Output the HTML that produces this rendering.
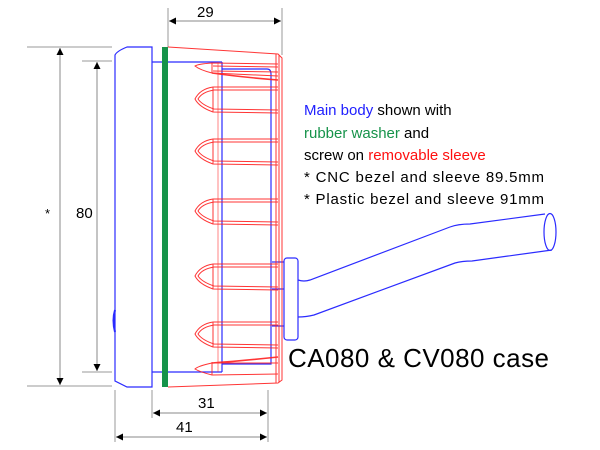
<!DOCTYPE html>
<html><head><style>
html,body{margin:0;padding:0;background:#fff;width:600px;height:450px;overflow:hidden}
svg{display:block}
text{font-family:"Liberation Sans",sans-serif}
</style></head><body>
<svg width="600" height="450" viewBox="0 0 600 450" xmlns="http://www.w3.org/2000/svg">
<defs>
<marker id="ah" viewBox="0 0 10 10" refX="10" refY="5" markerWidth="14" markerHeight="7" markerUnits="userSpaceOnUse" orient="auto-start-reverse"><path d="M0,0L10,5L0,10z" fill="#000"/></marker>
</defs>
<g stroke="#999" stroke-width="1" fill="none">
<line x1="168" y1="8" x2="168" y2="47"/><line x1="282" y1="8" x2="282" y2="55"/>
<line x1="27" y1="47" x2="112" y2="47"/><line x1="82" y1="61" x2="112" y2="61"/>
<line x1="27" y1="386" x2="112" y2="386"/><line x1="82" y1="372" x2="112" y2="372"/>
<line x1="152" y1="390" x2="152" y2="418"/><line x1="115" y1="390" x2="115" y2="442"/><line x1="268" y1="390" x2="268" y2="442"/>
</g>
<g stroke="#888" stroke-width="1">
<line x1="169" y1="21" x2="281" y2="21" marker-start="url(#ah)" marker-end="url(#ah)"/>
<line x1="60" y1="48" x2="60" y2="385" marker-start="url(#ah)" marker-end="url(#ah)"/>
<line x1="97" y1="62" x2="97" y2="371" marker-start="url(#ah)" marker-end="url(#ah)"/>
<line x1="153" y1="413" x2="267" y2="413" marker-start="url(#ah)" marker-end="url(#ah)"/>
<line x1="116" y1="437" x2="267" y2="437" marker-start="url(#ah)" marker-end="url(#ah)"/>
</g>
<g font-size="15" fill="#000">
<text x="197" y="17">29</text>
<text x="45" y="218" font-size="13">*</text>
<text x="76" y="218">80</text>
<text x="198" y="408">31</text>
<text x="176" y="432">41</text>
</g>
<g stroke="#2b2bff" stroke-width="1.2" fill="none">
<path d="M127,47 L152,47 L152,387 L127,387 L115,381 L115,55 Q117,51 127,47Z"/>
<path d="M115,310 Q112,320 115,332" stroke-width="2"/>
<path d="M152,62 L222,62 M222,62 L222,372 M152,372 L222,372"/>
<path d="M222,69 L267,69 Q271,69 271,74 L271,364 L222,364"/>
<rect x="284" y="258" width="14" height="82" rx="3"/>
<line x1="272" y1="262" x2="284" y2="262"/><line x1="272" y1="289" x2="284" y2="289"/><line x1="272" y1="326" x2="284" y2="326"/>
<path d="M298,280 Q304,282 310,280 L450,227 Q458,224 470,224 L545,214"/>
<path d="M298,317 Q306,317 314,315 L455,263 Q462,261 472,261 L552,250"/>
<ellipse cx="550" cy="232" rx="6" ry="18.5"/>
</g>
<rect x="162" y="47" width="6" height="340" fill="#16934a"/>
<g stroke="#ff2020" stroke-width="1" fill="none" opacity="0.9">
<path d="M168,47 L278,54 L282,58 L282,380 L278,383 L168,387"/>
<line x1="276" y1="54" x2="276" y2="383"/><line x1="279" y1="55" x2="279" y2="382"/>
<path d="M278,64 L212,63 Q198,64 195,66 Q200,70 212,73 L278,76"/>
<path d="M278,67 L213,66 M278,72 L213,71 M212,63 L212,73"/>
<path d="M212,73 Q240,77 278,80" stroke-width="1.6"/>
<g id="fins">
<path d="M278,87 L213,87 Q200,89 195,99 Q199,107 213,112 L278,113"/>
<path d="M278,90 L214,90 Q202,92 198,99 Q202,105 214,109 L278,110"/>
<line x1="213" y1="87" x2="213" y2="112"/>
</g>
<use href="#fins" transform="translate(0,52)"/>
<use href="#fins" transform="translate(0,112)"/>
<use href="#fins" transform="translate(0,177)"/>
<use href="#fins" transform="translate(0,235)"/>
<path d="M278,363 L212,363 Q198,366 195,369 Q200,372 212,375 L278,374"/>
<path d="M212,362 L212,375"/>
<path d="M212,363 Q240,361 278,357" stroke-width="1.6"/>
<line x1="218" y1="62" x2="218" y2="372" opacity="0.6"/>
</g>
<g font-size="15">
<text x="304" y="115"><tspan fill="#2020ff">Main body</tspan> shown with</text>
<text x="304" y="138"><tspan fill="#16934a">rubber washer</tspan> and</text>
<text x="304" y="160">screw on <tspan fill="#ff1010">removable sleeve</tspan></text>
<text x="304" y="182" textLength="240">* CNC bezel and sleeve 89.5mm</text>
<text x="304" y="204" textLength="240">* Plastic bezel and sleeve 91mm</text>
</g>
<text x="288" y="367" font-size="26" textLength="261">CA080 &amp; CV080 case</text>
</svg>
</body></html>
